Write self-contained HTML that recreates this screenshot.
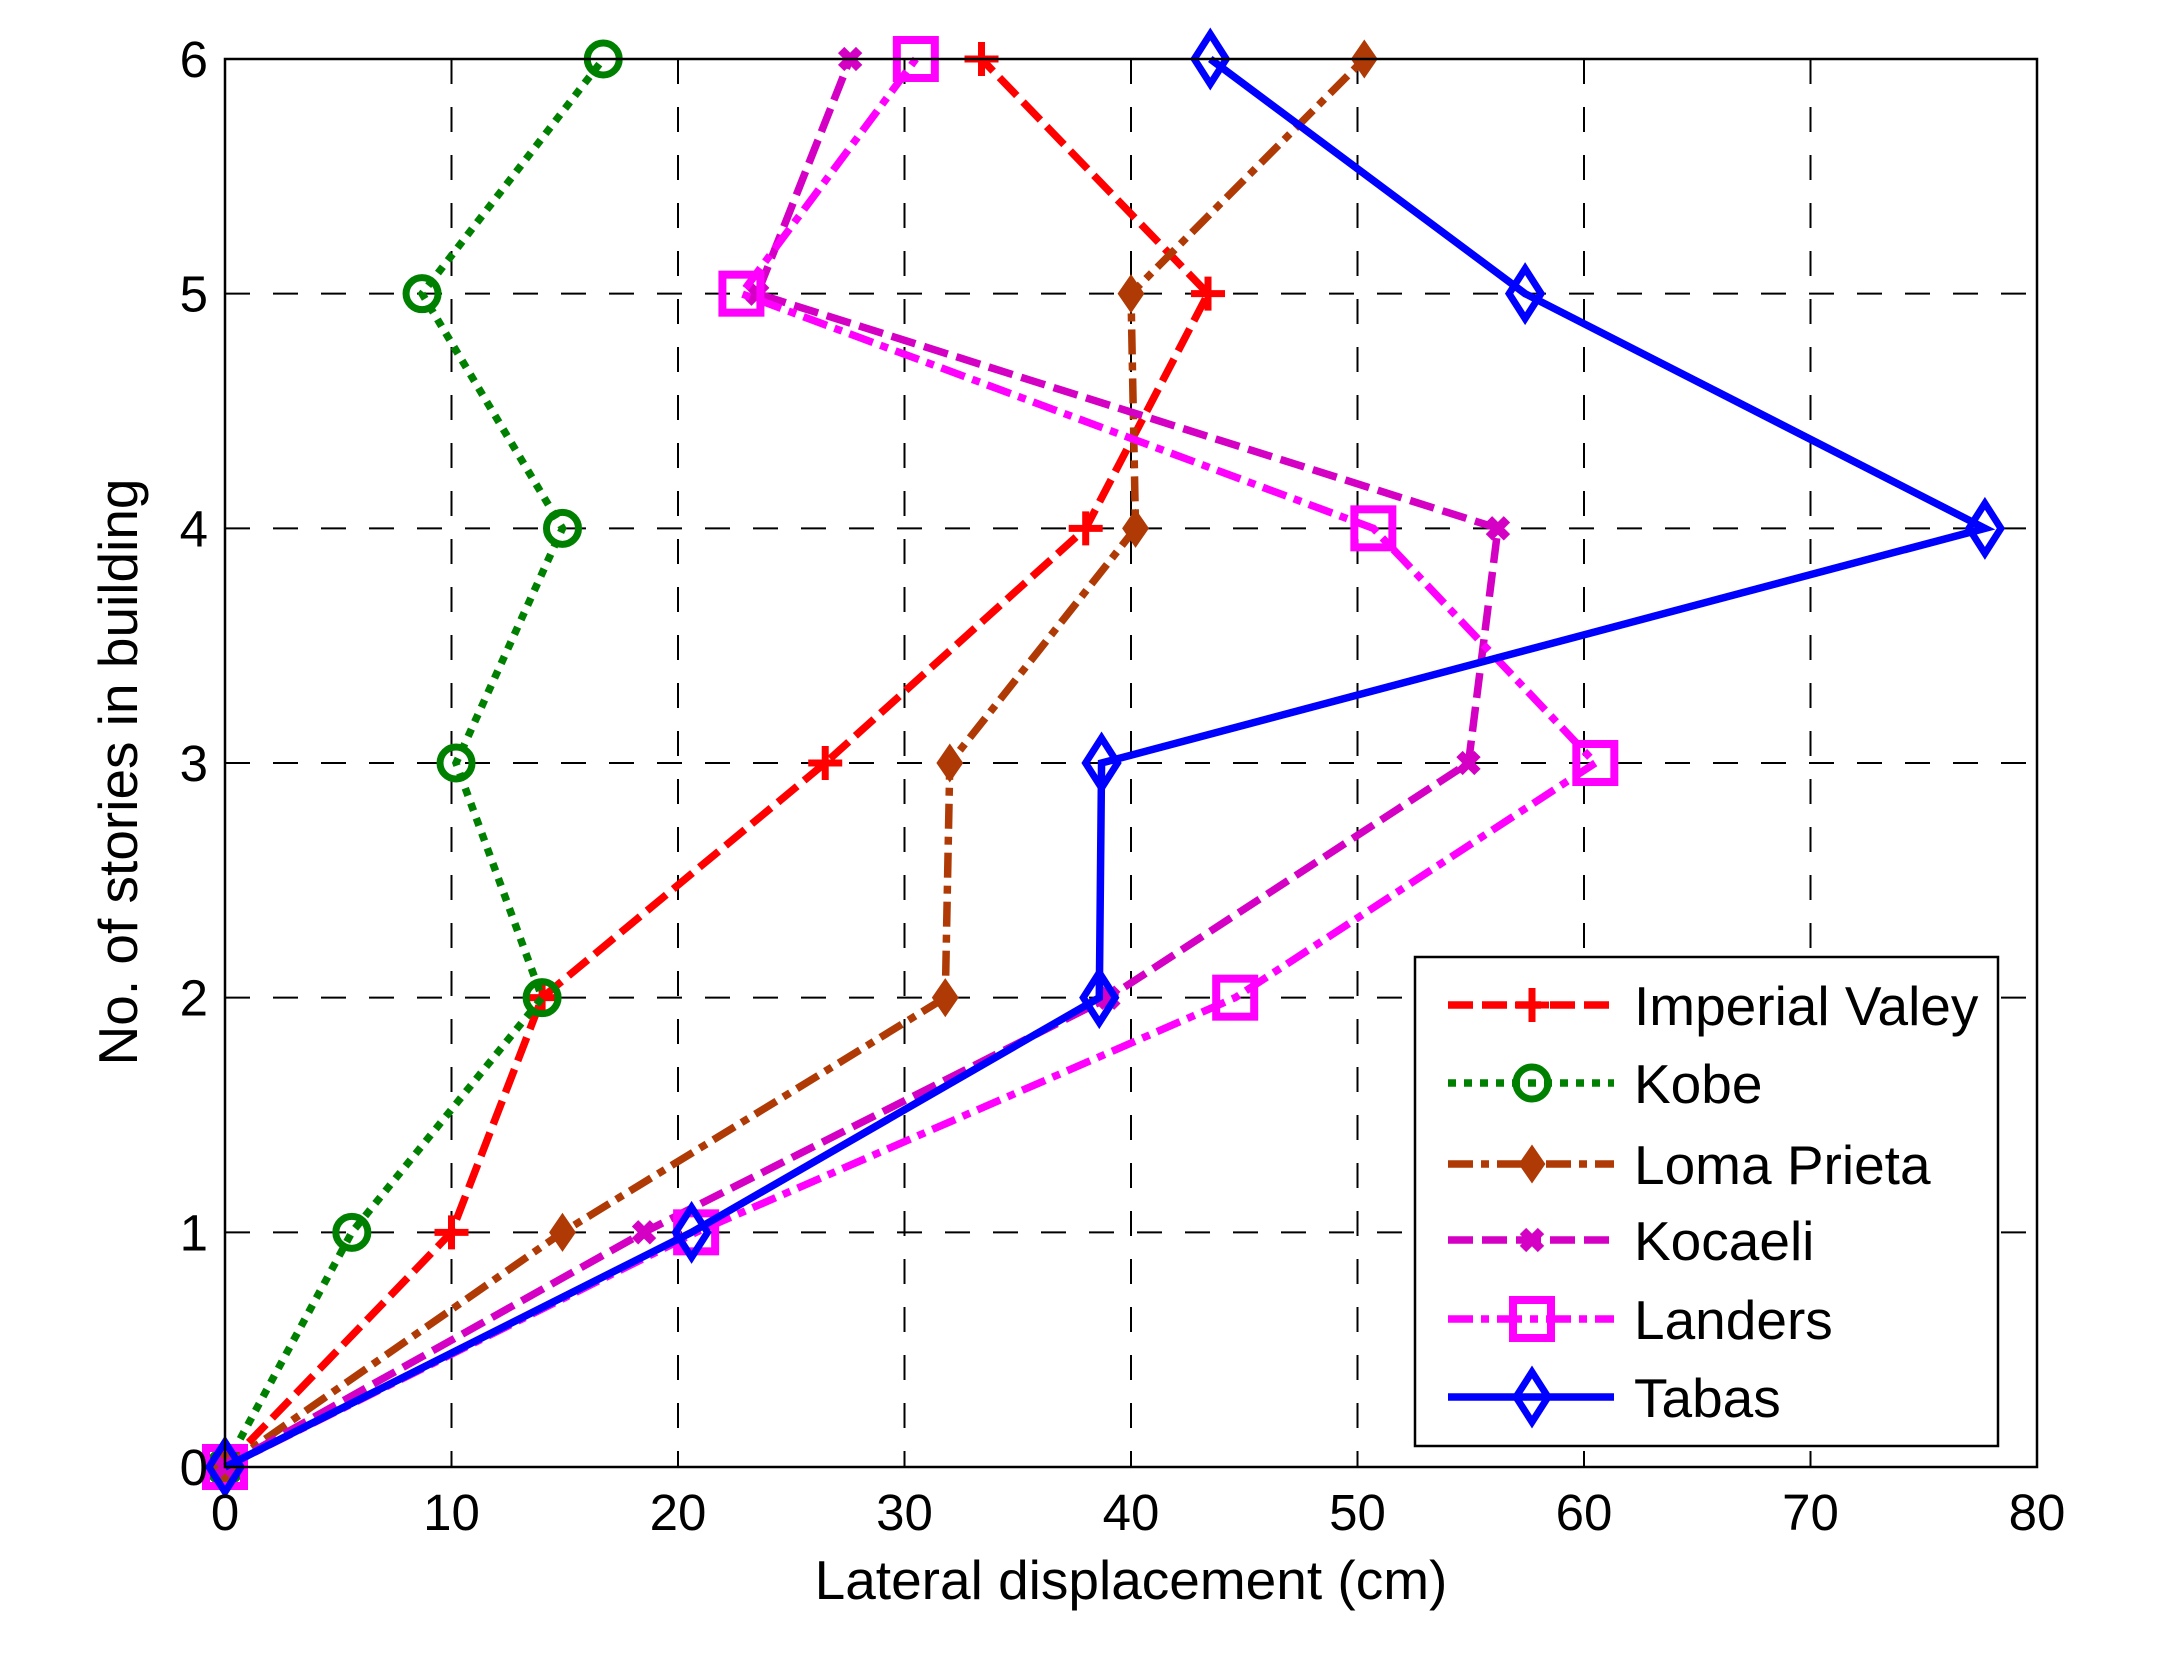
<!DOCTYPE html>
<html><head><meta charset="utf-8"><style>
html,body{margin:0;padding:0;background:#fff;}
svg{display:block;font-family:"Liberation Sans",Arial,sans-serif;}
</style></head><body>
<svg id="chart" width="2161" height="1670" viewBox="0 0 2161 1670" xmlns="http://www.w3.org/2000/svg">
<g id="grid"></g>
<g id="series"></g>
<rect x="225" y="59" width="1812" height="1408" fill="none" stroke="#000" stroke-width="2.5"/>
<g id="ticks" font-size="51"></g>
<text x="1131" y="1599" font-size="55" text-anchor="middle">Lateral displacement (cm)</text>
<text transform="translate(137,772) rotate(-90)" font-size="55" text-anchor="middle">No. of stories in building</text>
<g id="legend"></g>
</svg>
<script>
const stories = [0,1,2,3,4,5,6];
const xTicks = [0,10,20,30,40,50,60,70,80];
const yTicks = [0,1,2,3,4,5,6];
const seriesNames = ["Imperial Valey","Kobe","Loma Prieta","Kocaeli","Landers","Tabas"];
const imperialValley = [0,10,14,26.5,38,43.4,33.4];
const kobe = [0,5.6,14,10.2,14.9,8.7,16.7];
const lomaPrieta = [0,14.9,31.8,32,40.2,40,50.3];
const kocaeli = [0,18.5,39,54.9,56.2,23.5,27.6];
const landers = [0,20.8,44.6,60.5,50.7,22.8,30.5];
const tabas = [0,20.6,38.6,38.7,77.7,57.4,43.5];

const NS="http://www.w3.org/2000/svg";
const L=225,R=2037,T=59,B=1467;
const xs=v=>L+(v-0)/(80-0)*(R-L);
const ys=v=>B-(v-0)/(6-0)*(B-T);
function mk(tag,attrs,parent){const e=document.createElementNS(NS,tag);for(const k in attrs)e.setAttribute(k,attrs[k]);parent.appendChild(e);return e;}

const grid=document.getElementById('grid');
xTicks.forEach((t,i)=>{
  if(i>0&&i<xTicks.length-1){const l=mk('line',{x1:xs(t),x2:xs(t),y1:T,y2:B,stroke:'#000','stroke-width':2,'stroke-dasharray':'25 23'},grid);
  
  }
});
yTicks.forEach((t,i)=>{
  if(i>0&&i<yTicks.length-1){const l=mk('line',{x1:L,x2:R,y1:ys(t),y2:ys(t),stroke:'#000','stroke-width':2,'stroke-dasharray':'25 23'},grid);
  
  }
});
const ticks=document.getElementById('ticks');
xTicks.forEach(t=>{
  const e=mk('text',{x:xs(t),y:1530,'text-anchor':'middle'},ticks);e.textContent=t;
  
  
});
yTicks.forEach(t=>{
  const e=mk('text',{x:208,y:ys(t)+18,'text-anchor':'end'},ticks);e.textContent=t;
  
  
});

const styles=[
 {c:'#ff0000',dash:'25 9',m:'plus'},
 {c:'#008000',dash:'8 8',m:'circle'},
 {c:'#b03a05',dash:'25 8 8 8',m:'dot'},
 {c:'#d400c4',dash:'25 9',m:'x'},
 {c:'#ff00ff',dash:'25 8 8 8',m:'square'},
 {c:'#0000ff',dash:'',m:'diamond'}
];
const data=[imperialValley,kobe,lomaPrieta,kocaeli,landers,tabas];
function marker(type,x,y,c,g){
  let e;
  if(type==='plus'){e=mk('path',{d:`M${x-17},${y}H${x+17}M${x},${y-17}V${y+17}`,stroke:c,'stroke-width':7,fill:'none'},g);}
  else if(type==='circle'){e=mk('circle',{cx:x,cy:y,r:16,stroke:c,'stroke-width':7,fill:'none'},g);}
  else if(type==='dot'){e=mk('path',{d:`M${x},${y-16}L${x+11},${y}L${x},${y+16}L${x-11},${y}Z`,stroke:c,'stroke-width':4,fill:c},g);}
  else if(type==='x'){e=mk('path',{d:`M${x-9},${y-9}L${x+9},${y+9}M${x+9},${y-9}L${x-9},${y+9}`,stroke:c,'stroke-width':9,fill:'none'},g);}
  else if(type==='square'){e=mk('rect',{x:x-19,y:y-19,width:38,height:38,stroke:c,'stroke-width':8,fill:'none'},g);}
  else {e=mk('path',{d:`M${x},${y-25}L${x+16},${y}L${x},${y+25}L${x-16},${y}Z`,stroke:c,'stroke-width':7,fill:'none'},g);}
  return e;
}
const sg=document.getElementById('series');
data.forEach((arr,si)=>{
  const s=styles[si];
  const g=mk('g',{},sg);
  
  
  const pts=arr.map((v,i)=>xs(v)+','+ys(stories[i])).join(' ');
  const pl=mk('polyline',{points:pts,fill:'none',stroke:s.c,'stroke-width':7.5,'stroke-dasharray':s.dash},g);
  
  
  arr.forEach((v,i)=>{
    const m=marker(s.m,xs(v),ys(stories[i]),s.c,g);
    
    
  });
});

const lg=document.getElementById('legend');
const box=mk('rect',{x:1415,y:957,width:583,height:489,fill:'#fff',stroke:'#000','stroke-width':2.5},lg);


const ly=[1005,1083,1164,1240,1319,1397];
seriesNames.forEach((n,i)=>{
  const s=styles[i];
  const g=mk('g',{},lg);
  
  
  const y=ly[i];
  mk('line',{x1:1448,x2:1614,y1:y,y2:y,stroke:s.c,'stroke-width':7.5,'stroke-dasharray':s.dash},g);
  marker(s.m,1532,y,s.c,g);
  const t=mk('text',{x:1634,y:y+20,'font-size':55},g);t.textContent=n;
});
</script>
</body></html>
